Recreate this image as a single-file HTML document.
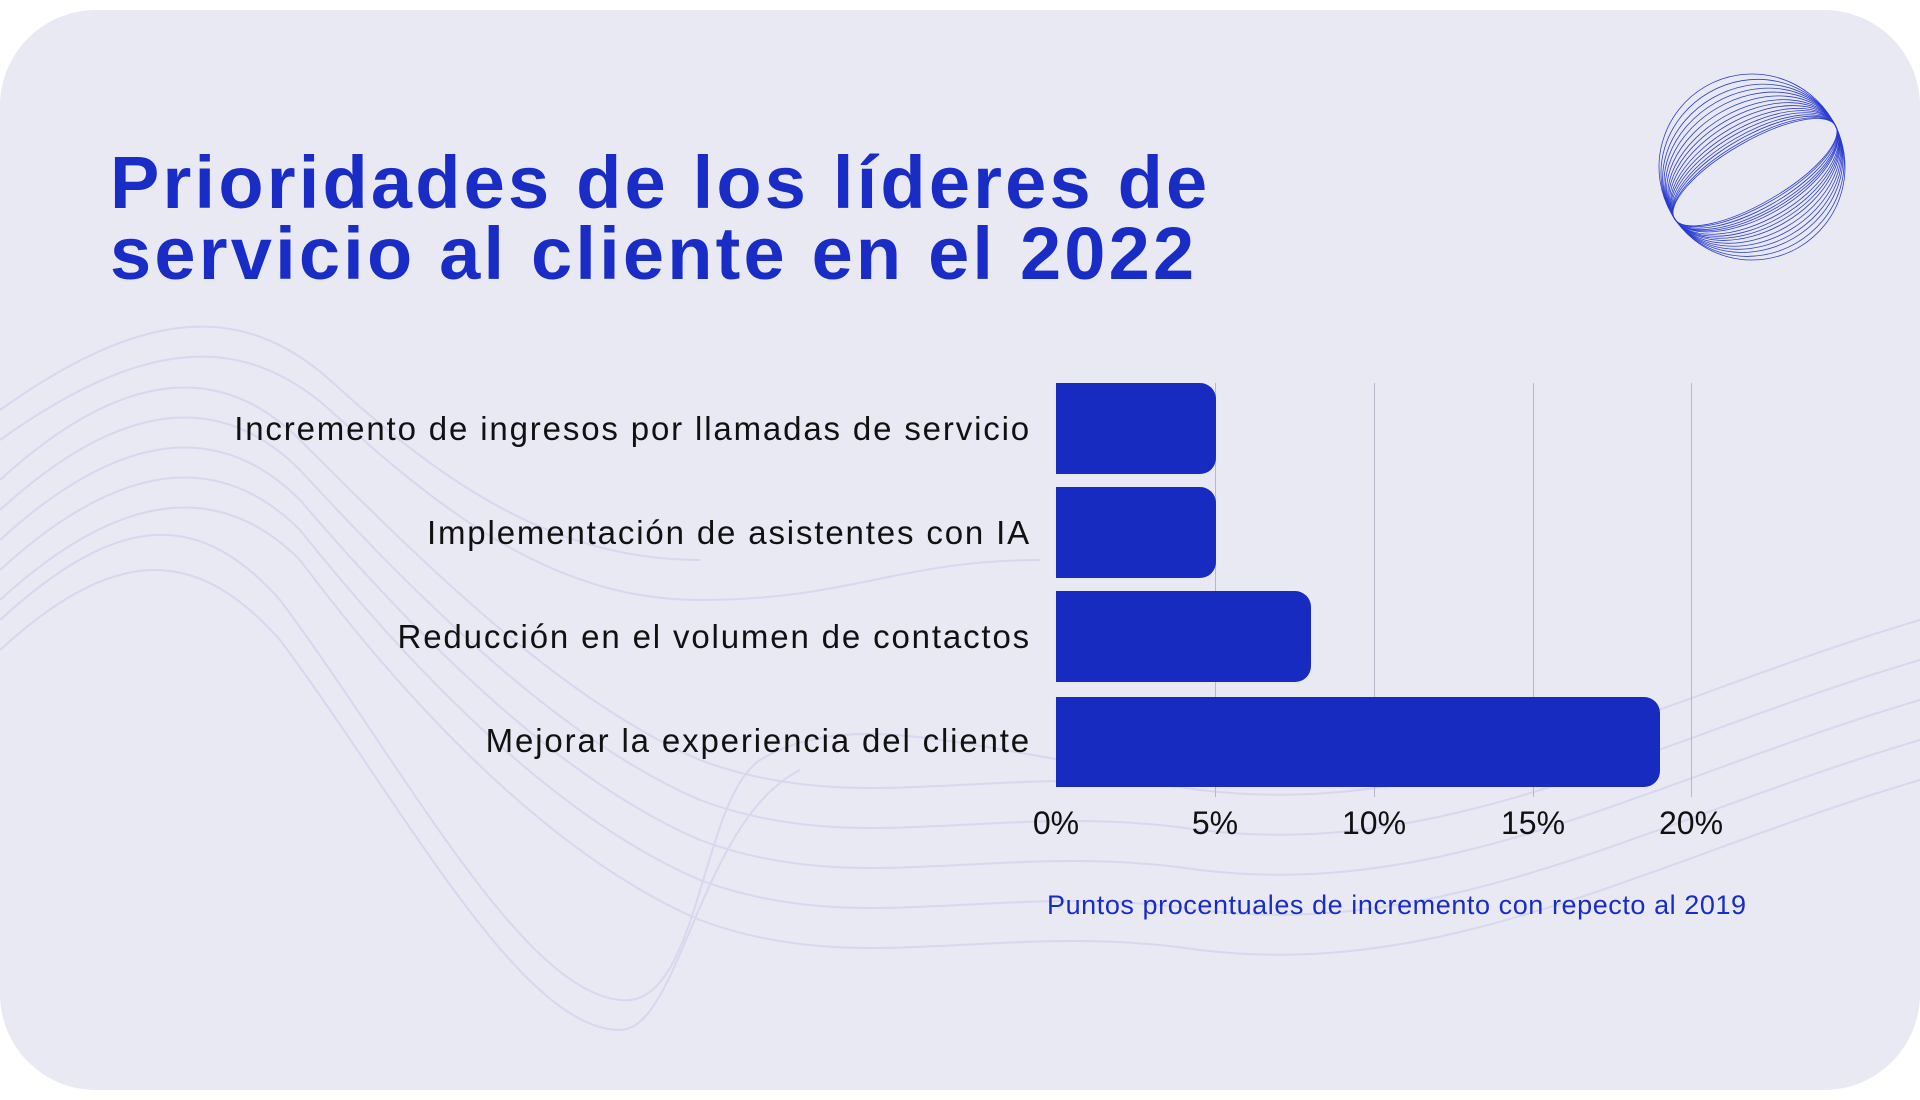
<!DOCTYPE html>
<html><head><meta charset="utf-8"><style>
body{margin:0;width:1920px;height:1100px;background:#fff;position:relative;overflow:hidden;font-family:"Liberation Sans",sans-serif}
.card{position:absolute;left:0;top:10px;width:1920px;height:1080px;background:#e9e9f4;border-radius:96px;overflow:hidden}
.t{position:absolute;left:110px;font-weight:bold;font-size:74px;color:#1a2cc6;white-space:nowrap;letter-spacing:3.2px}
.lab{position:absolute;right:889px;font-size:33px;color:#111;white-space:nowrap;transform:translateY(-50%);letter-spacing:1.85px}
.bar{position:absolute;left:1056px;background:#182bc1;border-radius:0 16px 16px 0}
.g{position:absolute;top:373px;height:414px;width:1px;background:#b8b8c8}
.tk{position:absolute;top:795px;font-size:32px;color:#111;transform:translateX(-50%)}
</style></head><body>
<div class="card">
<svg width="1920" height="1080" style="position:absolute;left:0;top:-10px" fill="none" stroke="#d7d7ee" stroke-width="2">
<path d="M0 480 C120 370 220 360 300 440 C420 560 560 700 700 760 C860 820 1000 760 1200 790 C1450 820 1650 700 1920 620"/>
<path d="M0 510 C120 400 220 390 300 470 C420 600 560 740 700 800 C860 860 1000 800 1200 830 C1450 860 1650 740 1920 660"/>
<path d="M0 540 C120 430 220 420 300 500 C420 640 560 780 700 840 C860 900 1000 840 1200 870 C1450 900 1650 780 1920 700"/>
<path d="M0 570 C120 460 220 450 300 530 C420 680 560 820 700 880 C860 940 1000 880 1200 910 C1450 940 1650 820 1920 740"/>
<path d="M0 600 C120 490 220 480 300 560 C420 720 560 860 700 920 C860 980 1000 920 1200 950 C1450 980 1650 860 1920 780"/>
<path d="M0 620 C120 510 200 510 280 600 C400 760 520 990 620 1000 C700 1010 700 800 760 760 C860 700 1000 760 1200 780"/>
<path d="M0 650 C120 540 200 550 280 640 C400 800 520 1030 620 1030 C680 1030 700 820 800 770"/>
<path d="M0 440 C140 340 240 330 330 410 C450 520 560 600 700 600 C850 600 900 560 1040 560"/>
<path d="M0 410 C140 310 240 300 330 380 C450 490 560 560 700 560"/>
</svg>
<svg width="200" height="200" style="position:absolute;left:1652px;top:57px" viewBox="-100 -100 200 200" fill="none" stroke="#2a3dd0" stroke-width="0.8">
<g transform="rotate(-30)">
<ellipse rx="93" ry="93"/><ellipse rx="93" ry="87" cy="1"/><ellipse rx="93" ry="81" cy="1.5"/><ellipse rx="93" ry="76" cy="2"/><ellipse rx="93" ry="71" cy="2.5"/><ellipse rx="93" ry="66" cy="3"/><ellipse rx="93" ry="61" cy="3.5"/><ellipse rx="93" ry="57" cy="4"/><ellipse rx="93" ry="53" cy="4.5"/><ellipse rx="93" ry="49" cy="5"/><ellipse rx="93" ry="45" cy="5"/><ellipse rx="93" ry="42" cy="5.5"/><ellipse rx="93" ry="39" cy="6"/><ellipse rx="93" ry="36" cy="6"/><ellipse rx="93" ry="33" cy="6"/><ellipse rx="93" ry="31" cy="6"/>
</g></svg>
<div class="t" style="top:130px">Prioridades de los líderes de</div>
<div class="t" style="top:201px">servicio al cliente en el 2022</div>
<div class="g" style="left:1215px"></div><div class="g" style="left:1374px"></div><div class="g" style="left:1533px"></div><div class="g" style="left:1691px"></div>
<div class="bar" style="top:373px;height:91px;width:160px"></div>
<div class="bar" style="top:477px;height:91px;width:160px"></div>
<div class="bar" style="top:581px;height:91px;width:255px"></div>
<div class="bar" style="top:687px;height:90px;width:604px"></div>
<div class="lab" style="top:419px">Incremento de ingresos por llamadas de servicio</div>
<div class="lab" style="top:523px">Implementación de asistentes con IA</div>
<div class="lab" style="top:627px">Reducción en el volumen de contactos</div>
<div class="lab" style="top:731px">Mejorar la experiencia del cliente</div>
<div class="tk" style="left:1056px">0%</div><div class="tk" style="left:1215px">5%</div><div class="tk" style="left:1374px">10%</div><div class="tk" style="left:1533px">15%</div><div class="tk" style="left:1691px">20%</div>
<div style="position:absolute;left:1047px;top:880px;font-size:27px;color:#1a2cc6;white-space:nowrap;letter-spacing:0.57px">Puntos procentuales de incremento con repecto al 2019</div>
</div>
</body></html>
